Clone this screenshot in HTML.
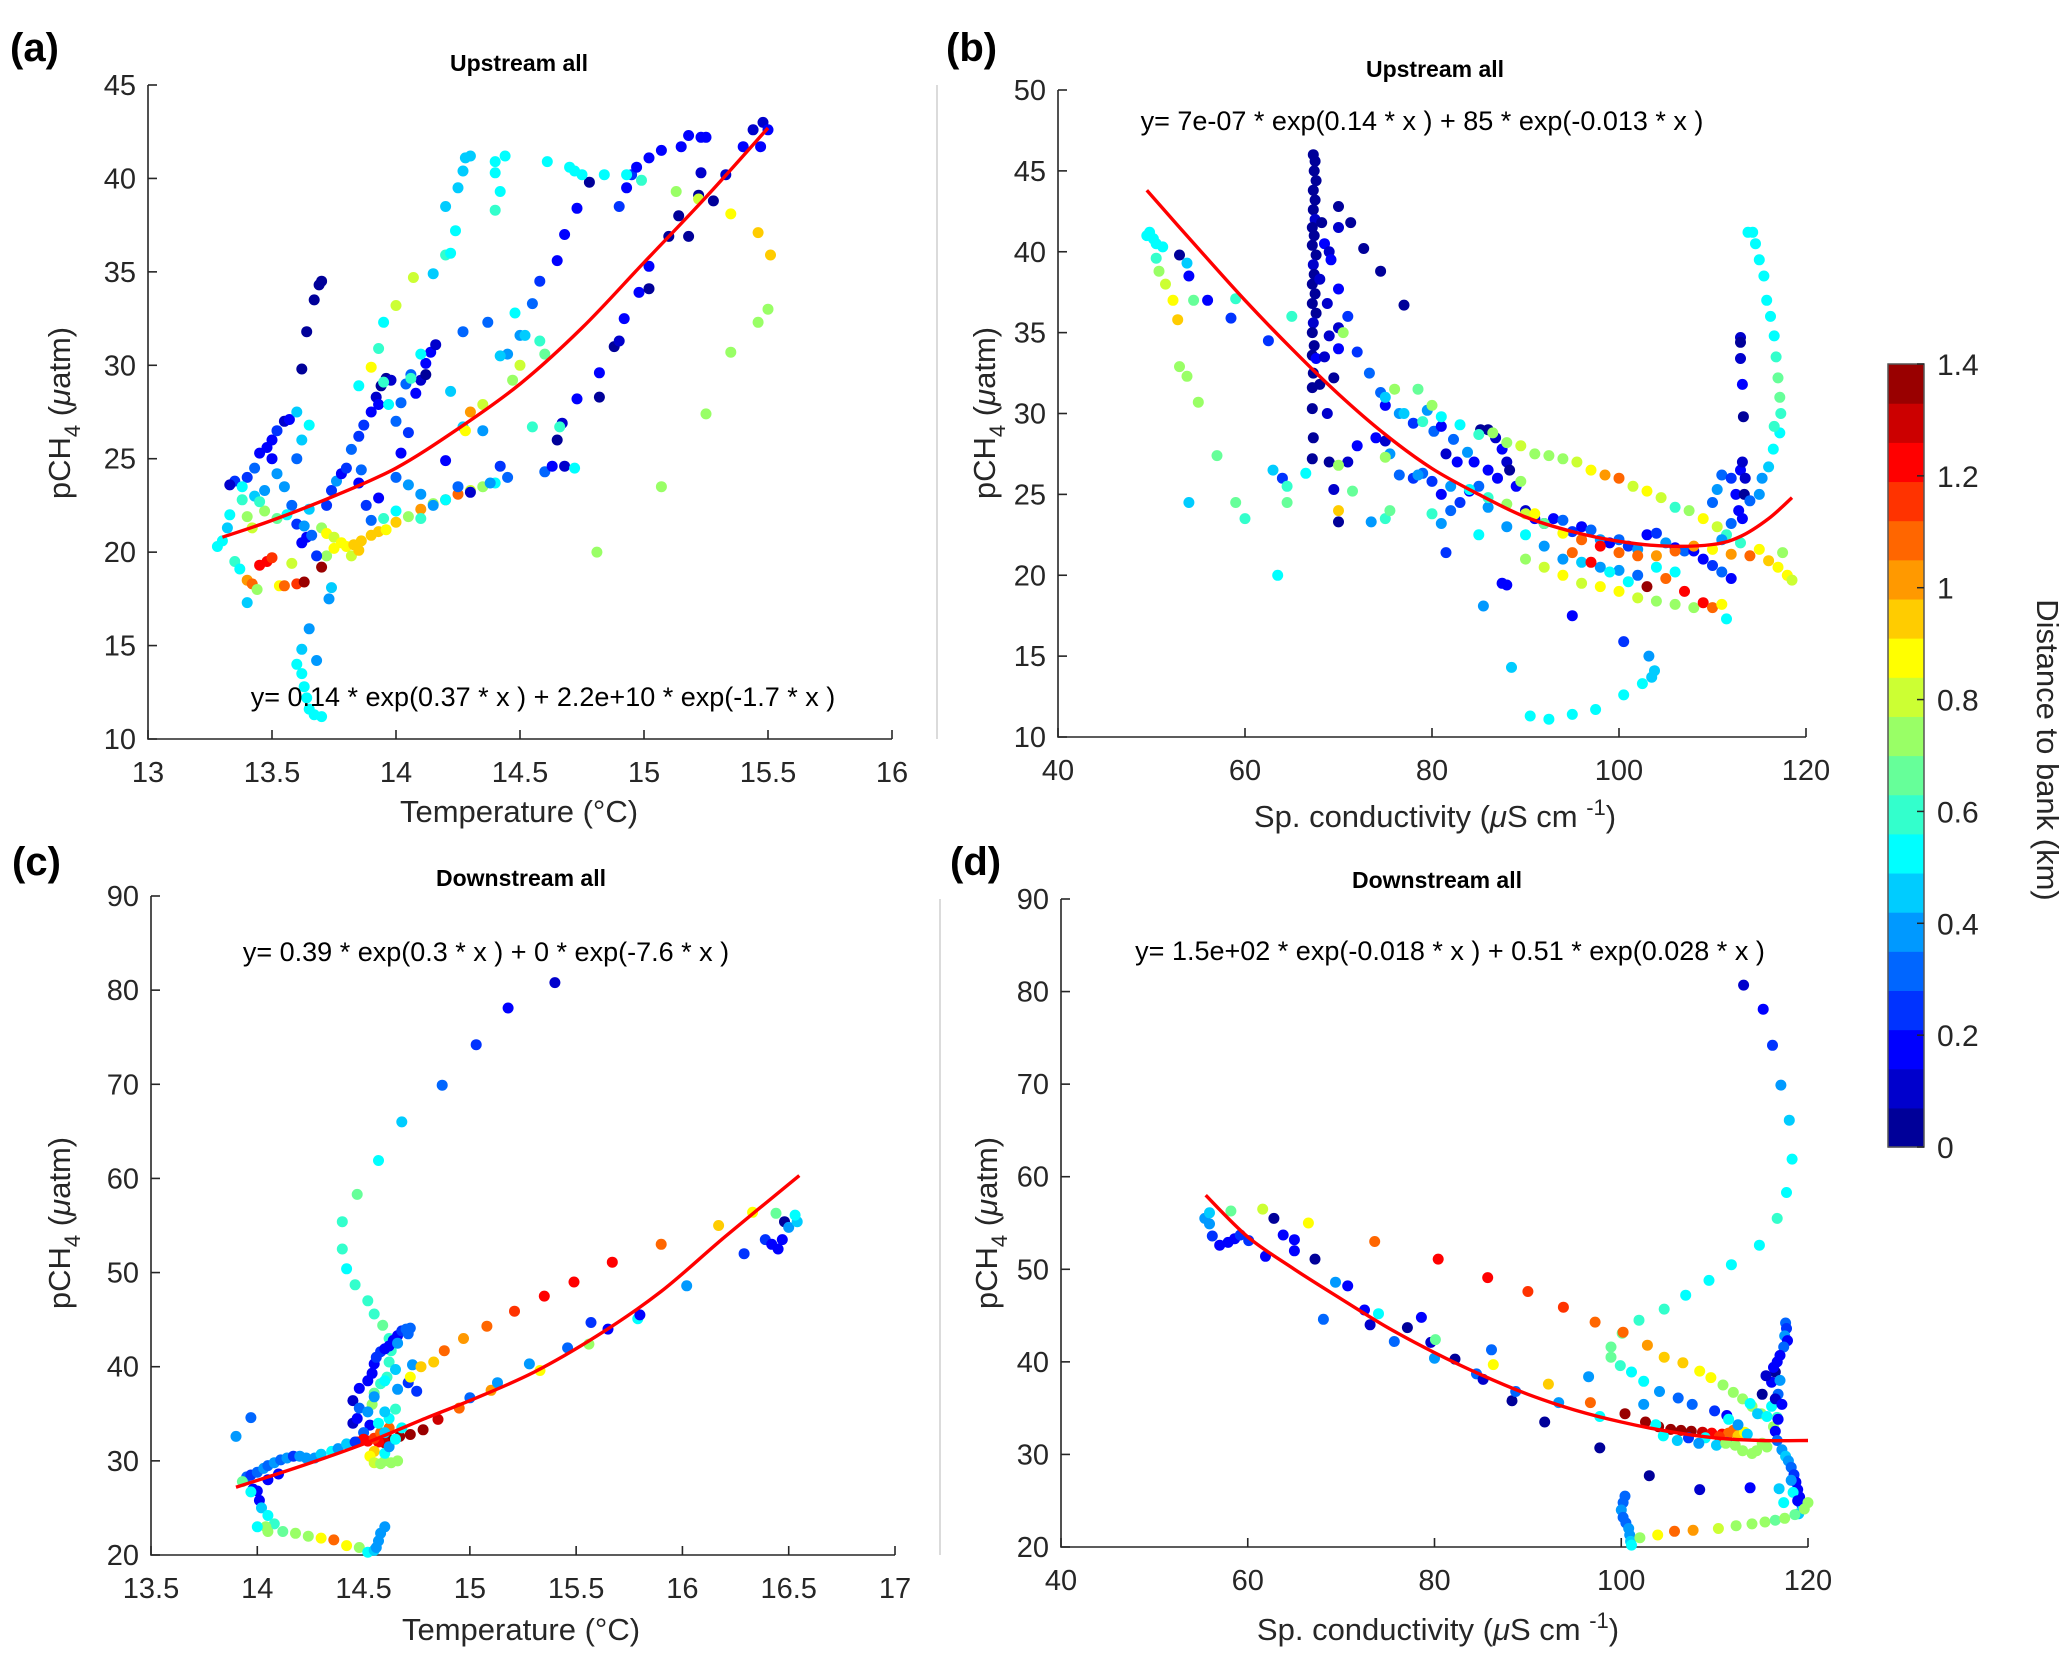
<!DOCTYPE html>
<html><head><meta charset="utf-8">
<style>
html,body{margin:0;padding:0;background:#fff;}
svg{display:block;font-family:"Liberation Sans",sans-serif;}
</style></head>
<body>
<svg id="fig" width="2067" height="1653" viewBox="0 0 2067 1653" xmlns="http://www.w3.org/2000/svg"></svg>
<script>
// ---------- DATA ----------
const xTicksA=[13,13.5,14,14.5,15,15.5,16];
const yTicksA=[10,15,20,25,30,35,40,45];
const xTicksB=[40,60,80,100,120];
const yTicksB=[10,15,20,25,30,35,40,45,50];
const xTicksC=[13.5,14,14.5,15,15.5,16,16.5,17];
const yTicksC=[20,30,40,50,60,70,80,90];
const xTicksD=[40,60,80,100,120];
const yTicksD=[20,30,40,50,60,70,80,90];
const cbTicks=[0,0.2,0.4,0.6,0.8,1,1.2,1.4];

const fitAx=[13.3,13.5,13.75,14,14.25,14.5,14.75,15,15.25,15.5];
const fitAy=[20.8,21.7,23,24.5,26.6,29,32,35.5,39,42.7];
const fitBx=[49.5,55,60,65,70,75,80,85,90,95,100,105,110,113,116,118.5];
const fitBy=[43.8,40.2,37,34,31.2,28.7,26.6,25,23.6,22.7,22.1,21.8,21.9,22.4,23.5,24.8];
const fitCx=[13.9,14.2,14.5,14.8,15,15.3,15.6,15.9,16.2,16.55];
const fitCy=[27.2,29.4,31.8,34.6,36.4,39.4,43.3,48,53.8,60.3];
const fitDx=[55.5,60,65,70,75,80,85,90,95,100,105,110,115,120];
const fitDy=[58,53.5,50,46.8,43.7,41,38.6,36.5,34.8,33.5,32.5,31.8,31.5,31.5];

// points: [x, pCH4, distance km]
const ptsA=[
[13.7,34.5,0.05],[13.69,34.3,0.05],[13.67,33.5,0.05],[13.64,31.8,0.05],[13.62,29.8,0.05],
[13.28,20.3,0.5],[13.3,20.6,0.5],[13.32,21.3,0.45],[13.33,22,0.55],[13.35,23.8,0.25],[13.33,23.6,0.1],[13.38,22.8,0.6],[13.4,21.9,0.7],[13.42,21.3,0.8],[13.35,19.5,0.6],[13.37,19.1,0.5],[13.4,18.5,1.0],[13.42,18.3,1.1],[13.45,19.3,1.2],[13.48,19.5,1.25],[13.5,19.7,1.15],[13.44,18.0,0.7],[13.4,17.3,0.45],[13.53,18.2,0.85],[13.55,18.2,1.05],[13.6,18.3,1.15],[13.63,18.4,1.38],[13.7,19.2,1.38],[13.58,19.4,0.8],
[13.4,24.0,0.25],[13.43,24.5,0.3],[13.45,25.3,0.2],[13.48,25.6,0.15],[13.5,26.0,0.2],[13.52,26.5,0.25],[13.55,27.0,0.1],[13.57,27.1,0.15],[13.5,25.0,0.15],[13.52,24.2,0.35],[13.55,23.5,0.4],[13.47,23.3,0.35],[13.43,23.0,0.45],[13.38,23.5,0.5],[13.6,25.0,0.3],[13.62,26.0,0.45],[13.6,27.5,0.45],[13.65,26.8,0.5],[13.58,22.5,0.3],[13.6,21.5,0.25],[13.56,22.0,0.55],[13.62,20.5,0.15],[13.64,20.8,0.2],[13.52,21.8,0.65],[13.47,22.2,0.7],[13.45,22.7,0.6],
[13.65,22.3,0.45],[13.7,21.3,0.75],[13.72,21.0,0.85],[13.75,20.8,0.8],[13.78,20.5,0.85],[13.8,20.3,0.9],[13.83,20.4,0.95],[13.86,20.6,0.97],[13.9,20.9,0.97],[13.93,21.1,0.95],[13.96,21.2,0.9],[14.0,21.6,0.97],[14.05,21.9,0.75],[14.1,22.3,1.0],[14.15,22.6,0.7],[14.2,22.8,1.05],[14.25,23.1,1.1],[14.3,23.3,0.8],[14.35,23.5,0.7],[14.4,23.7,0.5],[14.45,24.0,0.3],[13.82,19.8,0.8],[13.85,20.1,0.95],[13.72,19.8,0.7],[13.75,20.2,0.9],[13.95,21.8,0.6],
[13.72,22.5,0.25],[13.74,23.3,0.25],[13.76,23.8,0.35],[13.78,24.2,0.2],[13.8,24.5,0.25],[13.82,25.5,0.3],[13.85,26.2,0.25],[13.87,26.8,0.25],[13.9,27.5,0.15],[13.92,28.3,0.1],[13.94,28.9,0.05],[13.96,29.3,0.05],[13.98,29.2,0.1],[13.93,27.9,0.15],[14.0,27.0,0.3],[14.02,28.0,0.3],[14.04,29.0,0.3],[14.06,29.5,0.3],[14.08,28.5,0.2],[14.1,29.2,0.1],[14.12,30.1,0.15],[14.14,30.7,0.2],[14.16,31.1,0.1],[14.12,29.5,0.05],[13.85,23.7,0.2],[13.88,22.5,0.25],[13.9,21.7,0.3],[13.93,22.9,0.15],[13.86,24.4,0.3],[14.05,26.4,0.25],[14.02,25.3,0.2],
[14.2,22.8,0.5],[14.25,23.5,0.3],[14.3,23.2,0.1],[14.38,23.7,0.35],[14.42,24.6,0.25],[14.0,24.0,0.3],[14.05,23.6,0.4],[14.1,23.1,0.35],[14.15,22.5,0.4],[14.1,21.8,0.6],[14.0,22.2,0.55],[14.2,24.9,0.15],
[14.22,28.6,0.45],[14.27,31.8,0.3],[14.37,32.3,0.3],[14.45,30.6,0.4],[14.5,31.6,0.35],[14.55,33.3,0.3],[14.58,34.5,0.25],[14.65,35.6,0.2],[14.68,37.0,0.15],[14.73,38.4,0.15],[14.78,39.8,0.05],[14.9,38.5,0.25],[14.93,39.5,0.2],[14.95,40.2,0.25],[14.97,40.6,0.2],[15.02,41.1,0.2],[15.07,41.5,0.2],[15.15,41.7,0.2],[15.18,42.3,0.2],[15.23,42.2,0.2],[15.25,42.2,0.15],
[14.6,24.3,0.3],[14.63,24.6,0.2],[14.68,24.6,0.1],[14.65,26.0,0.05],[14.67,26.9,0.1],[14.73,28.2,0.2],[14.82,28.3,0.05],[14.82,29.6,0.15],[14.88,31.0,0.05],[14.9,31.3,0.1],[14.92,32.5,0.15],[14.98,33.9,0.15],[15.02,34.1,0.05],[15.02,35.3,0.15],[15.1,36.9,0.05],[15.18,36.9,0.05],[15.14,38.0,0.05],[15.22,39.1,0.05],[15.28,38.8,0.05],[15.23,40.3,0.1],[15.33,40.2,0.1],[15.4,41.7,0.15],[15.44,42.6,0.1],[15.48,43.0,0.1],[15.5,42.6,0.2],[15.47,41.7,0.15],
[13.97,27.9,0.5],[14.06,29.3,0.6],[14.1,30.6,0.5],[14.15,34.9,0.45],[14.2,35.9,0.6],[14.22,36.0,0.5],[14.24,37.2,0.5],[14.2,38.5,0.45],[14.25,39.5,0.45],[14.27,40.4,0.45],[14.28,41.1,0.45],[14.3,41.2,0.45],[14.4,40.9,0.5],[14.4,40.3,0.5],[14.42,39.3,0.5],[14.4,38.3,0.6],[14.44,41.2,0.5],[14.61,40.9,0.5],[14.7,40.6,0.5],[14.72,40.4,0.55],[14.75,40.2,0.55],[14.84,40.2,0.5],[14.93,40.2,0.5],[14.99,39.9,0.6],
[14.07,34.7,0.8],[14.0,33.2,0.8],[13.95,32.3,0.5],[13.93,30.9,0.6],[13.9,29.9,0.9],[13.95,29.1,0.6],[13.85,28.9,0.55],[14.42,30.5,0.45],[14.48,32.8,0.55],[14.52,31.6,0.45],[14.58,31.3,0.6],[14.6,30.6,0.65],[14.35,26.5,0.4],[14.27,26.7,0.45],[14.35,27.9,0.8],[14.3,27.5,1.0],[14.28,26.5,0.9],[14.5,30.0,0.8],[14.47,29.2,0.75],[14.55,26.7,0.6],[14.72,24.5,0.55],[14.66,26.7,0.6],
[15.13,39.3,0.7],[15.22,38.9,0.8],[15.35,38.1,0.9],[15.46,37.1,0.95],[15.51,35.9,0.95],[15.5,33.0,0.7],[15.46,32.3,0.7],[15.35,30.7,0.75],[15.25,27.4,0.7],[15.07,23.5,0.7],[14.81,20.0,0.7],
[13.62,14.8,0.45],[13.6,14.0,0.5],[13.62,13.5,0.5],[13.63,12.8,0.5],[13.64,12.2,0.55],[13.65,11.6,0.5],[13.67,11.3,0.55],[13.7,11.2,0.5],[13.65,15.9,0.35],[13.68,14.2,0.4],[13.73,17.5,0.4],[13.74,18.1,0.45],[13.63,21.4,0.35],[13.66,20.9,0.3],[13.68,19.8,0.25]
];
const ptsB=[
[67.3,46,0.05],[67.5,45.6,0.05],[67.4,45,0.05],[67.6,44.4,0.05],[67.3,43.8,0.05],[67.5,43.2,0.05],[67.3,42.6,0.05],[67.5,42.0,0.1],[67.2,41.5,0.05],[67.4,41.0,0.05],[67.2,40.4,0.05],[67.6,39.8,0.05],[67.3,39.2,0.1],[67.4,38.6,0.05],[67.2,38.0,0.05],[67.5,37.4,0.05],[67.2,36.8,0.05],[67.6,36.2,0.05],[67.3,35.6,0.1],[67.2,35.0,0.05],[67.4,34.2,0.05],[67.2,33.6,0.05],[67.3,32.5,0.05],[67.2,31.6,0.05],[67.2,30.3,0.05],[67.3,28.5,0.05],[67.6,33.4,0.2],[67.2,27.2,0.05],
[68.2,41.8,0.05],[68.5,40.5,0.15],[69.0,40.0,0.1],[69.2,39.5,0.15],[70.0,42.8,0.05],[71.3,41.8,0.05],[70.0,41.5,0.1],[72.7,40.2,0.05],[74.5,38.8,0.05],[77.0,36.7,0.05],[68.8,36.8,0.1],[70.0,35.3,0.1],[68.0,38.3,0.1],[70.0,37.7,0.15],[71.0,36.0,0.25],[69.0,34.8,0.1],[68.5,33.5,0.1],[70.0,34.0,0.15],[69.5,32.2,0.05],[68.0,31.8,0.05],[68.8,30.0,0.1],[69.0,27.0,0.05],[69.5,25.3,0.1],[70.0,23.3,0.05],
[72.0,33.8,0.25],[73.3,32.5,0.3],[74.5,31.3,0.3],[75.0,30.5,0.2],[76.5,30.0,0.35],[78.0,29.4,0.25],[79.5,30.2,0.35],[80.2,28.9,0.3],[81.0,29.2,0.2],[82.3,28.4,0.3],[83.8,27.6,0.4],[81.5,27.5,0.1],[82.7,27.0,0.2],[84.5,27.0,0.15],[85.2,29.0,0.05],[86.0,29.0,0.05],[86.8,28.5,0.1],[87.5,27.8,0.15],[88.0,27.0,0.1],[88.3,26.5,0.05],[87.0,26.0,0.2],[86.0,26.5,0.15],[85.0,25.5,0.3],[84.0,25.2,0.2],[83.0,24.5,0.25],[82.0,24.0,0.3],[81.0,25.0,0.2],[80.0,25.8,0.25],[79.0,26.3,0.3],[78.0,26.0,0.25],[76.5,26.2,0.3],[75.5,27.5,0.35],[74.0,28.5,0.2],[72.0,28.0,0.2],[71.0,27.0,0.1],[75.0,28.3,0.1],
[89.0,25.5,0.15],[90.0,24.0,0.1],[91.0,23.5,0.2],[92.0,23.2,0.2],[93.0,23.5,0.15],[94.0,23.4,0.3],[95.0,22.7,0.25],[96.0,23.0,0.15],[97.0,22.8,0.3],[98.0,22.2,0.35],[99.0,22.0,0.2],[100.0,22.2,0.3],[101.0,21.8,0.25],[102.0,21.6,0.35],[103.0,22.5,0.2],[104.0,22.6,0.25],[105.0,22.0,0.35],[106.0,21.7,0.2],[107.0,21.5,0.3],[108.0,21.5,0.2],[109.0,21.0,0.15],[110.0,20.6,0.25],[111.0,20.2,0.3],[112.0,19.8,0.2],[86.0,24.2,0.35],[88.0,23.0,0.4],[90.0,22.5,0.5],[92.0,21.8,0.4],[94.0,21.0,0.35],[96.0,20.8,0.45],[98.0,20.5,0.4],[100.0,20.3,0.35],[102.0,20.0,0.3],[104.0,20.5,0.5],[106.0,20.2,0.5],
[75.0,31.0,0.45],[77.0,30.0,0.45],[79.0,29.5,0.6],[81.0,29.8,0.5],[83.0,29.3,0.5],[85.0,28.7,0.6],[86.5,28.8,0.75],[88.0,28.2,0.7],[89.5,28.0,0.8],[91.0,27.5,0.7],[92.5,27.4,0.75],[94.0,27.2,0.7],[95.5,27.0,0.8],[97.0,26.5,0.9],[98.5,26.2,1.0],[100.0,26.0,1.05],[101.5,25.5,0.8],[103.0,25.2,0.9],[104.5,24.8,0.8],[106.0,24.2,0.6],[107.5,24.0,0.7],[109.0,23.5,0.9],[110.5,23.0,0.8],[111.5,22.5,0.6],[80.0,30.5,0.7],[78.5,31.5,0.65],
[84.0,25.3,0.55],[86.0,24.8,0.6],[88.0,24.4,0.7],[90.0,23.8,0.8],[92.0,23.2,0.65],[94.0,22.6,0.9],[96.0,22.2,1.1],[98.0,21.8,1.2],[100.0,21.4,1.05],[102.0,21.2,1.1],[104.0,21.2,1.0],[106.0,21.5,1.05],[108.0,21.8,1.0],[110.0,21.6,0.9],[112.0,21.3,1.0],[114.0,21.2,1.05],[116.0,20.9,0.95],[117.0,20.5,0.9],[118.0,20.0,0.85],[118.5,19.7,0.8],[115.0,21.6,0.85],[117.5,21.4,0.75],[113.0,22.0,0.6],
[90.0,21.0,0.75],[92.0,20.5,0.8],[94.0,20.0,0.9],[96.0,19.5,0.8],[98.0,19.3,0.85],[100.0,19.0,0.9],[102.0,18.6,0.8],[104.0,18.4,0.75],[106.0,18.2,0.7],[108.0,18.0,0.75],[109.0,18.3,1.25],[110.0,18.0,1.1],[111.0,18.2,0.9],[107.0,19.0,1.2],[105.0,19.8,1.1],[103.0,19.3,1.38],[101.0,19.6,0.55],[99.0,20.2,0.5],[97.0,20.8,1.2],[95.0,21.4,1.1],[111.5,17.3,0.5],
[110.0,24.5,0.3],[110.5,25.3,0.35],[111.0,26.2,0.3],[112.0,26.0,0.25],[112.5,25.0,0.2],[112.8,24.0,0.15],[113.0,26.5,0.2],[113.2,27.0,0.1],[113.5,26.0,0.1],[113.4,25.0,0.05],[113.2,23.5,0.2],[112.0,23.2,0.3],[111.0,22.2,0.35],[114.0,24.6,0.3],[115.0,25.0,0.35],[113.0,34.7,0.1],[113.0,34.4,0.05],[113.0,33.4,0.1],[113.2,31.8,0.15],[113.3,29.8,0.05],
[113.8,41.2,0.5],[114.3,41.2,0.5],[114.6,40.5,0.5],[115.0,39.5,0.5],[115.5,38.5,0.5],[115.8,37.0,0.55],[116.2,36.0,0.5],[116.6,34.8,0.55],[116.8,33.5,0.6],[117.0,32.2,0.65],[117.2,31.0,0.65],[117.3,30.0,0.6],[117.2,28.8,0.55],[116.5,27.8,0.5],[116.0,26.7,0.45],[115.3,26.0,0.4],[116.6,29.2,0.6],
[49.5,41.0,0.5],[49.8,41.2,0.5],[50.2,40.8,0.5],[50.5,40.5,0.55],[51.2,40.3,0.5],[50.5,39.6,0.6],[50.8,38.8,0.7],[51.5,38.0,0.8],[52.3,37.0,0.9],[52.8,35.8,0.95],[53.8,39.3,0.45],[54.5,37.0,0.65],[53.0,32.9,0.75],[53.8,32.3,0.7],[55.0,30.7,0.7],[57.0,27.4,0.65],[59.0,24.5,0.65],[60.0,23.5,0.6],[54.0,24.5,0.45],[53.0,39.8,0.05],[54.0,38.5,0.2],[56.0,37.0,0.2],[58.5,35.9,0.25],[59.0,37.1,0.6],[62.5,34.5,0.25],[63.0,26.5,0.45],[64.0,26.0,0.25],[64.5,25.5,0.6],[64.5,24.5,0.65],[63.5,20.0,0.5],[65.0,36.0,0.6],[66.5,26.3,0.55],
[70.5,35.0,0.75],[70.0,26.8,0.7],[70.0,24.0,0.95],[71.5,25.2,0.65],[73.5,23.3,0.35],[75.0,27.3,0.75],[75.0,23.5,0.6],[75.5,24.0,0.65],[76.0,31.5,0.75],[78.5,26.2,0.4],[80.0,23.8,0.6],[81.0,23.2,0.4],[81.5,21.4,0.25],[82.0,25.5,0.4],[85.0,22.5,0.5],[85.5,18.1,0.4],[87.5,19.5,0.2],[89.5,25.8,0.7],[91.0,23.8,0.85],
[88.5,14.3,0.45],[90.5,11.3,0.5],[92.5,11.1,0.5],[95.0,11.4,0.55],[97.5,11.7,0.55],[100.5,12.6,0.5],[102.5,13.3,0.5],[103.5,13.7,0.45],[103.8,14.1,0.45],[103.2,15.0,0.35],[100.5,15.9,0.25],[95.0,17.5,0.15],[88.0,19.4,0.2]
];
const ptsC=[
[15.4,80.8,0.1],[15.18,78.1,0.2],[15.03,74.2,0.25],[14.87,69.9,0.3],[14.68,66.0,0.45],[14.57,61.9,0.5],[14.47,58.3,0.65],[14.4,55.4,0.6],[14.4,52.5,0.6],[14.42,50.4,0.55],[14.46,48.7,0.6],[14.52,47.0,0.6],[14.55,45.6,0.6],[14.59,44.4,0.65],[14.62,43.0,0.6],[14.63,41.7,0.6],[14.62,40.5,0.6],[14.61,38.9,0.6],[14.58,38.2,0.6],[14.55,37.2,0.65],[14.54,36.0,0.7],
[14.45,34.0,0.1],[14.47,34.5,0.15],[14.45,36.4,0.1],[14.48,37.7,0.15],[14.52,38.5,0.2],[14.54,39.3,0.2],[14.55,40.3,0.2],[14.56,41.0,0.25],[14.58,41.6,0.25],[14.6,41.9,0.2],[14.62,42.2,0.15],[14.64,42.8,0.2],[14.66,43.3,0.15],[14.68,43.8,0.25],[14.7,44.0,0.3],[14.72,44.1,0.3],[14.71,43.5,0.3],[14.66,42.5,0.35],
[14.48,35.6,0.3],[14.52,35.2,0.35],[14.55,36.8,0.35],[14.6,38.5,0.5],[14.65,39.7,0.45],[14.53,33.8,0.15],[14.5,33.0,0.3],[14.66,37.6,0.35],[14.71,38.3,0.25],[14.75,37.4,0.25],[14.73,40.2,0.35],
[14.72,38.9,0.85],[14.77,40.0,0.95],[14.83,40.5,0.95],[14.88,41.7,1.05],[14.97,43.0,1.0],[15.08,44.3,1.05],[15.21,45.9,1.15],[15.35,47.5,1.2],[15.49,49.0,1.2],[15.67,51.1,1.2],[15.9,53.0,1.05],[16.17,55.0,0.95],[16.33,56.4,0.85],[16.44,56.3,0.65],
[14.95,35.6,1.1],[15.1,37.5,1.0],[15.33,39.6,0.85],[15.56,42.4,0.7],[15.79,45.1,0.55],
[14.85,34.4,1.3],[14.78,33.3,1.35],[14.72,32.8,1.35],[14.67,32.6,1.35],[14.63,32.2,1.38],[14.6,31.9,1.3],[14.57,32.0,1.25],[14.52,32.1,1.2],[14.5,32.3,1.2],[14.55,32.4,1.15],[14.58,33.0,1.1],[14.62,33.5,1.05],[14.47,32.0,1.25],
[14.55,31.0,0.95],[14.53,30.5,0.9],[14.55,29.8,0.8],[14.58,29.7,0.75],[14.6,30.0,0.75],[14.63,29.8,0.7],[14.66,30.0,0.7],[14.6,30.8,0.5],[14.62,31.5,0.4],[14.65,32.3,0.5],[14.6,33.0,0.45],[14.57,34.0,0.55],[14.62,34.5,0.5],[14.6,35.2,0.45],[14.65,35.5,0.6],[14.68,33.5,0.5],
[13.9,32.6,0.35],[13.97,34.6,0.3],[13.95,28.3,0.3],[13.97,28.5,0.25],[14.0,28.8,0.3],[14.03,29.2,0.35],[14.05,29.5,0.3],[14.08,29.8,0.35],[14.11,30.1,0.3],[14.14,30.3,0.35],[14.17,30.5,0.25],[14.2,30.5,0.35],[14.23,30.3,0.4],[14.27,30.3,0.35],[14.3,30.7,0.45],[14.35,31.0,0.5],[14.38,31.3,0.35],[13.98,27.0,0.2],[14.0,26.8,0.2],[14.01,25.8,0.2],[14.02,25.0,0.45],[14.05,24.2,0.55],[14.08,23.3,0.6],[14.04,23.0,0.7],[14.0,23.0,0.55],[14.05,22.5,0.75],[14.12,22.5,0.65],[14.18,22.3,0.7],[14.24,22.0,0.7],[14.3,21.8,0.9],[14.36,21.6,1.1],[14.42,21.0,0.85],[14.48,20.8,0.7],[14.52,20.3,0.5],[14.55,20.5,0.45],[14.57,21.5,0.4],[14.58,22.3,0.4],[14.6,23.0,0.4],[14.56,20.8,0.4],
[14.05,28.0,0.2],[14.1,28.6,0.2],[13.93,27.8,0.65],[13.97,26.7,0.5],[14.42,31.8,0.45],[14.46,32.0,0.25],
[15.13,38.3,0.35],[15.28,40.3,0.35],[15.46,42.0,0.3],[15.57,44.7,0.25],[15.65,44.0,0.15],[15.8,45.5,0.15],[16.02,48.6,0.4],[16.29,52.0,0.25],[16.39,53.5,0.25],[16.42,53.0,0.2],[16.45,52.5,0.15],[16.47,53.5,0.2],[16.48,55.4,0.05],[16.5,54.8,0.35],[16.54,55.4,0.45],[16.53,56.1,0.5],[15.0,36.7,0.3]
];
const ptsD=[
[113.1,80.7,0.1],[115.2,78.1,0.2],[116.2,74.2,0.25],[117.1,69.9,0.35],[118.0,66.1,0.45],[118.3,61.9,0.5],[117.7,58.3,0.55],[116.7,55.5,0.6],[114.8,52.6,0.55],[111.8,50.5,0.55],[109.4,48.8,0.55],[106.9,47.2,0.55],[104.6,45.7,0.6],[101.9,44.5,0.6],[100.1,43.1,0.65],[98.9,41.6,0.65],[98.9,40.5,0.65],[99.9,39.6,0.6],[101.1,38.9,0.55],[102.4,37.9,0.5],
[73.6,53.0,1.05],[80.4,51.1,1.2],[85.7,49.1,1.25],[90.0,47.6,1.15],[93.8,45.9,1.15],[97.2,44.3,1.1],[100.2,43.2,1.05],[102.8,41.8,1.0],[104.6,40.5,0.95],[106.6,39.9,0.95],[108.4,39.0,0.9],[109.6,38.3,0.85],[110.9,37.5,0.75],[112.0,36.7,0.7],[113.0,36.0,0.7],[114.0,35.2,0.75],[115.0,34.4,0.75],
[55.4,55.5,0.4],[55.9,54.9,0.35],[55.9,56.1,0.45],[56.2,53.6,0.25],[57.0,52.6,0.2],[57.9,52.9,0.2],[58.6,53.3,0.2],[59.2,53.7,0.25],[60.1,53.1,0.25],[61.9,51.4,0.2],[62.8,55.5,0.05],[63.8,53.7,0.15],[65.0,53.2,0.15],[65.0,52.0,0.2],[67.2,51.1,0.05],[68.1,44.6,0.3],[69.4,48.6,0.4],[70.7,48.2,0.2],[72.5,45.6,0.15],[73.1,44.0,0.1],[75.7,42.2,0.3],[77.1,43.7,0.05],[78.6,44.8,0.2],[79.6,42.1,0.1],[80.0,40.4,0.35],[82.2,40.3,0.05],[84.5,38.7,0.3],[85.2,38.1,0.1],[86.1,41.3,0.3],[88.3,35.8,0.05],[88.7,36.8,0.3],[91.8,33.5,0.05],[93.3,35.6,0.35],[96.5,38.4,0.35],[97.7,34.1,0.5],[97.7,30.7,0.05],[100.4,34.4,1.38],[102.4,35.4,0.35],[102.6,33.5,1.38],[103.0,27.7,0.05],[104.1,36.8,0.35],[106.1,36.1,0.3],[107.6,35.4,0.3],[108.4,26.2,0.1],[110.0,34.7,0.25],[111.3,34.2,0.15],[113.8,26.4,0.2],[115.1,36.5,0.05],[116.1,37.8,0.15],[116.5,38.9,0.05],
[58.2,56.3,0.65],[61.6,56.5,0.8],[66.5,55.0,0.9],[74.0,45.2,0.5],[80.1,42.4,0.65],[86.3,39.7,0.85],[92.2,37.6,0.95],[96.7,35.6,1.1],
[104.0,33.0,1.35],[105.3,32.7,1.38],[106.4,32.6,1.35],[107.5,32.5,1.38],[108.7,32.4,1.3],[109.7,32.3,1.25],[110.8,32.2,1.2],[111.5,32.3,1.1],[112.0,32.6,1.05],[110.5,31.9,1.15],[109.0,31.8,0.55],[112.5,32.0,0.95],[113.2,32.4,0.85],[103.7,33.2,0.5],[104.5,32.0,0.55],[106.0,31.5,0.45],[107.2,31.8,0.25],[108.3,31.2,0.4],[110.2,31.0,0.45],[111.3,31.3,0.3],
[113.8,35.5,0.5],[114.6,34.4,0.45],[115.6,34.1,0.55],[116.3,33.0,0.7],[116.7,34.0,0.6],[116.1,35.2,0.5],[115.1,31.2,0.7],[114.0,30.1,0.7],[113.0,30.4,0.75],[112.2,31.0,0.7],[111.2,31.2,0.75],[114.5,30.4,0.75],[115.6,30.8,0.7],[113.5,32.2,0.45],[112.5,33.2,0.4],[111.5,33.8,0.5],
[117.6,44.2,0.3],[117.7,43.6,0.25],[117.5,42.8,0.35],[117.8,42.3,0.15],[117.4,41.6,0.3],[117.0,40.7,0.2],[116.7,40.0,0.15],[116.3,39.4,0.2],[115.5,38.5,0.1],[117.0,38.0,0.35],[116.8,36.5,0.3],[116.5,36.0,0.1],[117.2,35.4,0.2],[116.8,33.8,0.2],[116.5,32.5,0.15],[116.7,31.5,0.3],[117.2,30.5,0.4],[117.6,29.8,0.45],[117.9,29.3,0.35],[118.2,28.6,0.3],[118.5,27.8,0.25],[118.7,27.0,0.2],[118.9,26.2,0.15],[119.1,25.4,0.15],[119.3,24.6,0.3],[119.5,24.1,0.5],[119.0,23.6,0.45],[118.4,25.9,0.5],[118.2,27.2,0.4],[117.4,24.8,0.5],[116.9,26.3,0.45],[118.9,25.0,0.2],
[100.4,25.5,0.3],[100.2,24.8,0.3],[100.0,24.0,0.35],[100.2,23.2,0.3],[100.5,22.6,0.3],[100.8,22.0,0.35],[100.9,21.3,0.4],[101.0,20.6,0.45],[101.1,20.2,0.5],[102.0,21.0,0.7],[103.9,21.3,0.9],[105.7,21.7,1.1],[107.7,21.8,1.0],[110.4,22.0,0.8],[112.3,22.3,0.7],[114.0,22.5,0.7],[115.4,22.7,0.7],[116.5,22.9,0.65],[117.5,23.1,0.7],[118.6,23.5,0.65],[119.6,24.1,0.7],[120.0,24.8,0.75]
];

// ---------- RENDER ----------
const NS="http://www.w3.org/2000/svg";
const svg=document.getElementById('fig');
function mk(tag,attrs,parent){const e=document.createElementNS(NS,tag);for(const k in attrs)e.setAttribute(k,attrs[k]);(parent||svg).appendChild(e);return e;}
function jet20(k){
  const u=[.2,.4,.6,.8,1,1,1,1,1,1,.8,.6,.4,.2];
  const g=(k>=4&&k<=17)?u[k-4]:0;
  const r=(k>=9)?u[k-9]:0;
  const b=(k<=12)?u[k+1]:0;
  return 'rgb('+Math.round(r*255)+','+Math.round(g*255)+','+Math.round(b*255)+')';
}
function colorFor(c){let k=Math.floor(c/1.4*20)+1;if(k<1)k=1;if(k>20)k=20;return jet20(k);}
function smoothPath(P){
  let d='M'+P[0][0].toFixed(1)+','+P[0][1].toFixed(1);
  for(let i=0;i<P.length-1;i++){
    const p0=P[i-1]||P[i],p1=P[i],p2=P[i+1],p3=P[i+2]||P[i+1];
    const c1=[p1[0]+(p2[0]-p0[0])/6,p1[1]+(p2[1]-p0[1])/6];
    const c2=[p2[0]-(p3[0]-p1[0])/6,p2[1]-(p3[1]-p1[1])/6];
    d+='C'+c1[0].toFixed(1)+','+c1[1].toFixed(1)+' '+c2[0].toFixed(1)+','+c2[1].toFixed(1)+' '+p2[0].toFixed(1)+','+p2[1].toFixed(1);
  }
  return d;
}

function panel(o){
  const g=mk('g',{});
  
  
  const sx=v=>o.x0+(v-o.xmin)/(o.xmax-o.xmin)*(o.x1-o.x0);
  const sy=v=>o.y0-(v-o.ymin)/(o.ymax-o.ymin)*(o.y0-o.y1);
  const ax=mk('path',{d:`M${o.x0},${o.y1}V${o.y0}H${o.x1}`,fill:'none',stroke:'#262626','stroke-width':1.6},g);
  
  
  o.xt.forEach(t=>{
    const x=sx(t);
    mk('line',{x1:x,x2:x,y1:o.y0,y2:o.y0-9,stroke:'#262626','stroke-width':1.6},g);
    const tx=mk('text',{x:x,y:o.y0+43,'text-anchor':'middle','font-size':29,fill:'#262626'},g);
    tx.textContent=t;
    
    
  });
  o.yt.forEach(t=>{
    const y=sy(t);
    mk('line',{x1:o.x0,x2:o.x0+9,y1:y,y2:y,stroke:'#262626','stroke-width':1.6},g);
    const tx=mk('text',{x:o.x0-12,y:y+10,'text-anchor':'end','font-size':29,fill:'#262626'},g);
    tx.textContent=t;
    
    
  });
  o.pts.forEach(p=>{
    const c=mk('circle',{cx:sx(p[0]).toFixed(1),cy:sy(p[1]).toFixed(1),r:5.5,fill:colorFor(p[2])},g);
    
    
  });
  const P=o.fx.map((v,i)=>[sx(v),sy(o.fy[i])]);
  const fl=mk('path',{d:smoothPath(P),fill:'none',stroke:'#ff0000','stroke-width':3.4,'stroke-linejoin':'round'},g);
  
  
}

panel({name:'panel-a',x0:148,x1:892,y0:739,y1:85,xmin:13,xmax:16,ymin:10,ymax:45,xt:xTicksA,yt:yTicksA,pts:ptsA,fx:fitAx,fy:fitAy});
panel({name:'panel-b',x0:1058,x1:1806,y0:737,y1:90,xmin:40,xmax:120,ymin:10,ymax:50,xt:xTicksB,yt:yTicksB,pts:ptsB,fx:fitBx,fy:fitBy});
panel({name:'panel-c',x0:151,x1:895,y0:1555,y1:896,xmin:13.5,xmax:17,ymin:20,ymax:90,xt:xTicksC,yt:yTicksC,pts:ptsC,fx:fitCx,fy:fitCy});
panel({name:'panel-d',x0:1061,x1:1808,y0:1547,y1:899,xmin:40,xmax:120,ymin:20,ymax:90,xt:xTicksD,yt:yTicksD,pts:ptsD,fx:fitDx,fy:fitDy});

const cb=mk('g',{});


const cbX=1888,cbW=36,cbTop=364,cbBot=1147;
for(let k=1;k<=20;k++){
  const h=(cbBot-cbTop)/20;
  const r=mk('rect',{x:cbX,y:(cbBot-k*h).toFixed(2),width:cbW,height:(h+0.6).toFixed(2),fill:jet20(k)},cb);
  
  
}
mk('rect',{x:cbX,y:cbTop,width:cbW,height:cbBot-cbTop,fill:'none',stroke:'#555','stroke-width':1.5},cb);
cbTicks.forEach(t=>{
  const y=cbBot-t/1.4*(cbBot-cbTop);
  mk('line',{x1:cbX+cbW-7,x2:cbX+cbW,y1:y,y2:y,stroke:'#262626','stroke-width':1.5},cb);
  const tx=mk('text',{x:1937,y:y+11,'font-size':30,fill:'#262626'},cb);
  tx.textContent=t;
  
  
});
</script>
<script>
(function(){
const NS="http://www.w3.org/2000/svg";const svg=document.getElementById('fig');
function t(str,x,y,size,opts,name){const e=document.createElementNS(NS,'text');e.setAttribute('x',x);e.setAttribute('y',y);e.setAttribute('font-size',size);e.setAttribute('fill',opts.fill||'#000');if(opts.anchor)e.setAttribute('text-anchor',opts.anchor);if(opts.bold)e.setAttribute('font-weight','bold');if(opts.rot)e.setAttribute('transform',opts.rot);


e.innerHTML=str;svg.appendChild(e);return e;}
t('(a)',10,61,40,{bold:1},'panel-label-a');
t('(b)',946,61,40,{bold:1},'panel-label-b');
t('(c)',12,875,40,{bold:1},'panel-label-c');
t('(d)',950,875,40,{bold:1},'panel-label-d');
t('Upstream all',519,71,23,{bold:1,anchor:'middle'},'title-a');
t('Upstream all',1435,77,23,{bold:1,anchor:'middle'},'title-b');
t('Downstream all',521,886,23,{bold:1,anchor:'middle'},'title-c');
t('Downstream all',1437,888,23,{bold:1,anchor:'middle'},'title-d');
t('y= 0.14 * exp(0.37 * x ) + 2.2e+10 * exp(-1.7 * x )',543,706,27,{anchor:'middle'},'equation-a');
t('y= 7e-07 * exp(0.14 * x ) + 85 * exp(-0.013 * x )',1422,130,27,{anchor:'middle'},'equation-b');
t('y= 0.39 * exp(0.3 * x ) + 0 * exp(-7.6 * x )',486,961,27,{anchor:'middle'},'equation-c');
t('y= 1.5e+02 * exp(-0.018 * x ) + 0.51 * exp(0.028 * x )',1450,960,27,{anchor:'middle'},'equation-d');
t('Temperature (°C)',519,822,31,{anchor:'middle',fill:'#262626'},'x-axis-title-a');
t('Sp. conductivity (<tspan font-style="italic">μ</tspan>S cm <tspan dy="-12" font-size="22">-1</tspan><tspan dy="12">)</tspan>',1435,827,31,{anchor:'middle',fill:'#262626'},'x-axis-title-b');
t('Temperature (°C)',521,1640,31,{anchor:'middle',fill:'#262626'},'x-axis-title-c');
t('Sp. conductivity (<tspan font-style="italic">μ</tspan>S cm <tspan dy="-12" font-size="22">-1</tspan><tspan dy="12">)</tspan>',1438,1640,31,{anchor:'middle',fill:'#262626'},'x-axis-title-d');
const yl='pCH<tspan dy="10" font-size="22">4</tspan><tspan dy="-10"> (</tspan><tspan font-style="italic">μ</tspan>atm)';
t(yl,0,0,31,{anchor:'middle',fill:'#262626',rot:'translate(70,413) rotate(-90)'},'y-axis-title-a');
t(yl,0,0,31,{anchor:'middle',fill:'#262626',rot:'translate(995,413) rotate(-90)'},'y-axis-title-b');
t(yl,0,0,31,{anchor:'middle',fill:'#262626',rot:'translate(70,1223) rotate(-90)'},'y-axis-title-c');
t(yl,0,0,31,{anchor:'middle',fill:'#262626',rot:'translate(997,1223) rotate(-90)'},'y-axis-title-d');
t('Distance to bank (km)',0,0,31,{anchor:'middle',fill:'#262626',rot:'translate(2037,750) rotate(90)'},'colorbar-title');
function line(x,y1,y2,name){const e=document.createElementNS(NS,'line');e.setAttribute('x1',x);e.setAttribute('x2',x);e.setAttribute('y1',y1);e.setAttribute('y2',y2);e.setAttribute('stroke','#cfcfcf');e.setAttribute('stroke-width',1.5);


svg.appendChild(e);}
line(937,85,739,'separator-top');
line(940,899,1555,'separator-bottom');
})();
</script>
</body></html>
